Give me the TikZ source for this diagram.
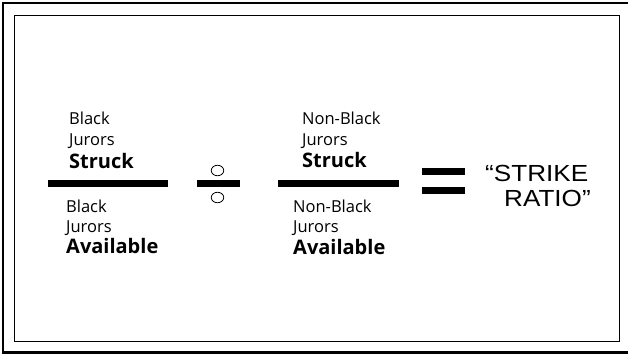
\documentclass[tikz,border=0pt]{standalone}
\usepackage{fontspec}
\usetikzlibrary{shapes.geometric}
\setmainfont{Open Sans}
\newfontfamily\arialfont{Liberation Sans}
\begin{document}
\begin{tikzpicture}[x=1pt,y=-1pt,
  lbl/.style={anchor=base west,inner sep=0pt,font=\fontsize{16.5}{18}\selectfont},
  blbl/.style={anchor=base west,inner sep=0pt,font=\fontsize{20}{22}\selectfont\bfseries},
  bigtxt/.style={anchor=base west,inner sep=0pt,xscale=1.12,font=\arialfont\fontsize{23.3}{26}\selectfont},
  fracbar/.style={line width=7pt},
  eqbar/.style={line width=7pt},
  ring/.style={ellipse,draw,line width=0.8pt,minimum width=12.5pt,minimum height=10.5pt,inner sep=0pt}]
\useasboundingbox (0,0) rectangle (628,354);
\fill[white] (0,0) rectangle (628,354);
% frames
\draw[line width=2.6pt] (628,3) -- (3,3) -- (3,352.5) -- (628,352.5);
\draw[line width=1.2pt] (14.5,15.5) rectangle (619.5,341.5);
% left fraction
\node[lbl] (lb1) at (69,124) {Black};
\node[lbl] (lj1) at (69,145) {Jurors};
\node[blbl] (ls) at (69,168) {Struck};
\coordinate (lbarA) at (48,183.5);
\coordinate (lbarB) at (168,183.5);
\draw[fracbar] (lbarA) -- (lbarB);
\node[lbl] (lb2) at (66,212) {Black};
\node[lbl] (lj2) at (66,232) {Jurors};
\node[blbl] (la) at (66,253) {Available};
% divide sign
\node[ring] (d1) at (217.5,170.5) {};
\node[ring] (d2) at (217.5,197.5) {};
\coordinate (dbarA) at (197,183.5);
\coordinate (dbarB) at (240,183.5);
\draw[fracbar] (dbarA) -- (dbarB);
% right fraction
\node[lbl] (rb1) at (302,124) {Non-Black};
\node[lbl] (rj1) at (302,145) {Jurors};
\node[blbl] (rs) at (302,167) {Struck};
\coordinate (rbarA) at (278,183.5);
\coordinate (rbarB) at (399,183.5);
\draw[fracbar] (rbarA) -- (rbarB);
\node[lbl] (rb2) at (293,212) {Non-Black};
\node[lbl] (rj2) at (293,232) {Jurors};
\node[blbl] (ra) at (293,254) {Available};
% equals
\coordinate (e1A) at (422,171.5);
\coordinate (e1B) at (465,171.5);
\coordinate (e2A) at (422,190.5);
\coordinate (e2B) at (465,190.5);
\draw[eqbar] (e1A) -- (e1B);
\draw[eqbar] (e2A) -- (e2B);
% result
\node[bigtxt] (t1) at (485,181.5) {“STRIKE};
\node[bigtxt] (t2) at (504,206.5) {RATIO”};
\end{tikzpicture}
\end{document}
